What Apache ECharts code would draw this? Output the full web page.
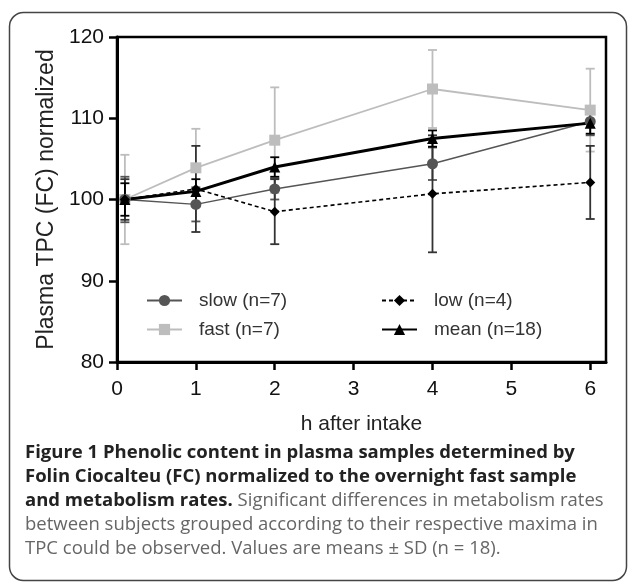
<!DOCTYPE html>
<html>
<head>
<meta charset="utf-8">
<script src="https://cdn.jsdelivr.net/npm/echarts@6/dist/echarts.min.js"></script>
<style>
  html, body { margin: 0; padding: 0; background: #fff; }
  #chart { width: 629px; height: 582px; }
</style>
</head>
<body>
<div id="chart"></div>
<script>
// hours after intake (first sample drawn just right of 0)
const times = [0.1, 1, 2, 4, 6]
const xTicks = [0, 1, 2, 3, 4, 5, 6]

const slowMean = [100, 99.4, 101.3, 104.4, 109.6]
const slowSD = [2.8, 2.1, 1.3, 2.0, 1.7]
const fastMean = [100, 103.9, 107.3, 113.6, 111.0]
const fastSD = [5.5, 4.8, 6.5, 4.8, 5.1]
const lowMean = [100, 101.3, 98.5, 100.7, 102.1]
const lowSD = [2.5, 5.3, 4.0, 7.2, 4.5]
const meanMean = [100, 101.0, 104.0, 107.5, 109.4]
const meanSD = [2.0, 1.5, 1.2, 1.0, 1.3]

const captionLines = [
  '{b|Figure 1 Phenolic content in plasma samples determined by}',
  '{b|Folin Ciocalteu (FC) normalized to the overnight fast sample}',
  '{b|and metabolism rates.} Significant differences in metabolism rates',
  'between subjects grouped according to their respective maxima in',
  'TPC could be observed. Values are means \u00b1 SD (n = 18).'
]

const pts = (m) => times.map((t, i) => [t, m[i]])
const bars = (m, sd) => times.map((t, i) => [t, m[i] - sd[i], m[i] + sd[i]])

function errBar (color, lw) {
  return function (params, api) {
    const x = api.value(0)
    const lo = api.coord([x, api.value(1)])
    const hi = api.coord([x, api.value(2)])
    const w = 4.5
    const style = { stroke: color, lineWidth: lw }
    return {
      type: 'group',
      children: [
        { type: 'line', shape: { x1: lo[0], y1: lo[1], x2: hi[0], y2: hi[1] }, style },
        { type: 'line', shape: { x1: lo[0] - w, y1: lo[1], x2: lo[0] + w, y2: lo[1] }, style },
        { type: 'line', shape: { x1: hi[0] - w, y1: hi[1], x2: hi[0] + w, y2: hi[1] }, style }
      ]
    }
  }
}

const dom = document.getElementById('chart')
const chart = echarts.init(dom)

const option = {
  animation: false,
  textStyle: { fontFamily: 'Liberation Sans, Arial, sans-serif' },
  grid: { left: 117, right: 23, top: 37, bottom: 220, show: true, borderColor: '#000', borderWidth: 2.5 },
  legend: [
    {
      data: ['slow (n=7)', 'fast (n=7)'],
      orient: 'vertical', left: 141, top: 286, itemWidth: 35, itemHeight: 14, itemGap: 10,
      textStyle: { fontSize: 19, color: '#333', padding: [0, 0, 0, 12] }
    },
    {
      data: ['low (n=4)', 'mean (n=18)'],
      orient: 'vertical', left: 376, top: 286, itemWidth: 35, itemHeight: 14, itemGap: 10,
      textStyle: { fontSize: 19, color: '#333', padding: [0, 0, 0, 12] }
    }
  ],
  xAxis: {
    type: 'value', min: 0, max: 6.2, interval: 1,
    name: 'h after intake', nameLocation: 'middle', nameGap: 52,
    nameTextStyle: { fontSize: 21, color: '#222' },
    axisLine: { lineStyle: { color: '#000', width: 3 } },
    axisTick: { length: 8, inside: false, lineStyle: { color: '#000', width: 2.5 }, customValues: xTicks },
    axisLabel: { fontSize: 21, color: '#111', margin: 17, customValues: xTicks },
    splitLine: { show: false }
  },
  yAxis: {
    type: 'value', min: 80, max: 120, interval: 10,
    name: 'Plasma TPC (FC) normalized', nameLocation: 'middle', nameGap: 59,
    nameTextStyle: { fontSize: 23, color: '#222' },
    axisLine: { show: true, lineStyle: { color: '#000', width: 3 } },
    axisTick: { show: true, length: 8, lineStyle: { color: '#000', width: 2.5 } },
    axisLabel: { fontSize: 21, color: '#111', margin: 13 },
    splitLine: { show: false }
  },
  series: [
    {
      type: 'custom', name: 'fastSD', renderItem: errBar('#bdbdbd', 1.8),
      data: bars(fastMean, fastSD), encode: { x: 0, y: [1, 2] }, silent: true
    },
    {
      type: 'line', name: 'fast (n=7)', data: pts(fastMean), symbol: 'rect', symbolSize: 11,
      lineStyle: { color: '#bdbdbd', width: 1.8 }, itemStyle: { color: '#bdbdbd' }
    },
    {
      type: 'custom', name: 'slowSD', renderItem: errBar('#555', 1.8),
      data: bars(slowMean, slowSD), encode: { x: 0, y: [1, 2] }, silent: true
    },
    {
      type: 'line', name: 'slow (n=7)', data: pts(slowMean), symbol: 'circle', symbolSize: 11,
      lineStyle: { color: '#555', width: 1.5 }, itemStyle: { color: '#555' }
    },
    {
      type: 'custom', name: 'lowSD', renderItem: errBar('#333', 1.8),
      data: bars(lowMean, lowSD), encode: { x: 0, y: [1, 2] }, silent: true
    },
    {
      type: 'line', name: 'low (n=4)', data: pts(lowMean), symbol: 'diamond', symbolSize: 10,
      lineStyle: { color: '#000', width: 1.6, type: [4, 3] }, itemStyle: { color: '#000' }
    },
    {
      type: 'custom', name: 'meanSD', renderItem: errBar('#000', 1.8),
      data: bars(meanMean, meanSD), encode: { x: 0, y: [1, 2] }, silent: true
    },
    {
      type: 'line', name: 'mean (n=18)', data: pts(meanMean), symbol: 'triangle', symbolSize: 11,
      lineStyle: { color: '#000', width: 3 }, itemStyle: { color: '#000' }
    }
  ],
  graphic: [
    {
      type: 'rect', silent: true, z: -1,
      shape: { x: 9.5, y: 12.5, width: 617, height: 568, r: 14 },
      style: { fill: 'none', stroke: '#444', lineWidth: 1.5 }
    }
  ].concat(captionLines.map((line, i) => ({
    type: 'text', left: 25, top: 443 + i * 24, silent: true,
    style: {
      text: line,
      font: '18.5px "Open Sans"',
      fill: '#666',
      rich: { b: { fontFamily: 'Open Sans', fontWeight: 'bold', fontSize: 18.5, fill: '#222' } }
    }
  })))
}

chart.setOption(option)
window.addEventListener('resize', () => chart.resize())
</script>
</body>
</html>
